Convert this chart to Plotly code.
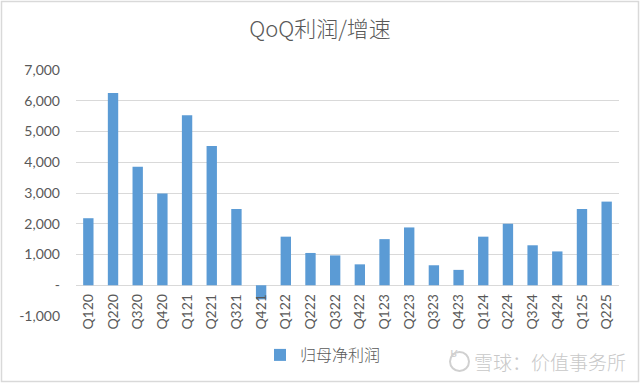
import plotly.graph_objects as go

categories = ["Q120", "Q220", "Q320", "Q420", "Q121", "Q221", "Q321", "Q421",
              "Q122", "Q222", "Q322", "Q422", "Q123", "Q223", "Q323", "Q423",
              "Q124", "Q224", "Q324", "Q424", "Q125", "Q225"]
values = [2180, 6250, 3850, 2980, 5530, 4530, 2480, -460,
          1580, 1050, 970, 680, 1500, 1880, 650, 500,
          1580, 2000, 1300, 1100, 2480, 2720]
series_name = "归母净利润"
y_tickvals = [-1000, 0, 1000, 2000, 3000, 4000, 5000, 6000, 7000]
y_ticktext = ["-1,000", "-", "1,000", "2,000", "3,000", "4,000", "5,000", "6,000", "7,000"]

W, H = 640, 383
L, R, T, B = 76, 21, 70, 67
pw, ph = W - L - R, H - T - B

def px(x):
    return (x - L) / pw

def py(y):
    return (H - B - y) / ph

fig = go.Figure()
fig.add_trace(go.Bar(x=categories, y=values, name=series_name,
                     marker=dict(color="#5b9bd5", line=dict(width=0)),
                     showlegend=True))

gray = "#595959"
fig.update_layout(
    width=W, height=H,
    margin=dict(l=L, r=R, t=T, b=B, autoexpand=False),
    paper_bgcolor="white", plot_bgcolor="white",
    bargap=0.58,
    title=dict(text="QoQ利润/增速", x=0.5, xanchor="center", y=1 - 29 / H, yanchor="middle",
               font=dict(family="Noto Sans CJK SC", size=22, color=gray, weight=300)),
    font=dict(family="Lato", color=gray),
    showlegend=True,
    legend=dict(orientation="h", xref="container", yref="container",
                x=323 / W, xanchor="center", y=1 - 355 / H, yanchor="middle",
                font=dict(family="Noto Sans CJK SC", size=16, color=gray, weight=300),
                itemwidth=30),
    xaxis=dict(anchor="free", position=0.125, showline=False, showgrid=False,
               tickangle=-90, tickfont=dict(family="Lato", size=14, color=gray),
               ticks="", ticklabelstandoff=5, range=[-0.5, len(categories) - 0.5]),
    yaxis=dict(range=[-1000, 7000], tickvals=y_tickvals, ticktext=y_ticktext,
               showgrid=True, gridcolor="#d9d9d9", gridwidth=1,
               zeroline=True, zerolinecolor="#d9d9d9", zerolinewidth=1,
               showline=False, ticks="", ticklabelstandoff=15,
               tickfont=dict(family="Lato", size=14, color=gray)),
)

# outer chart border
fig.add_shape(type="rect", xref="paper", yref="paper",
              x0=px(1.5), x1=px(638.5), y0=py(381.5), y1=py(1.5),
              line=dict(color="#d9d9d9", width=1.5), fillcolor="rgba(0,0,0,0)", layer="below")

# watermark
fig.add_shape(type="circle", xref="paper", yref="paper",
              x0=px(450), x1=px(469), y0=py(371), y1=py(352),
              line=dict(color="#d0d0d0", width=2))
fig.add_annotation(xref="paper", yref="paper", x=px(459.5), y=py(361.5), text="ʁ",
                   showarrow=False, font=dict(family="DejaVu Sans", size=13, color="#d0d0d0"))
fig.add_annotation(xref="paper", yref="paper", x=px(472), y=py(361), xanchor="left",
                   yanchor="middle", text="雪球：价值事务所", showarrow=False,
                   font=dict(family="Noto Sans CJK SC", size=19, color="#c8c8c8", weight=300))

fig.write_html("out.html", config={"displayModeBar": False},
               post_script="document.body.style.margin='0';document.body.style.overflow='hidden';")
